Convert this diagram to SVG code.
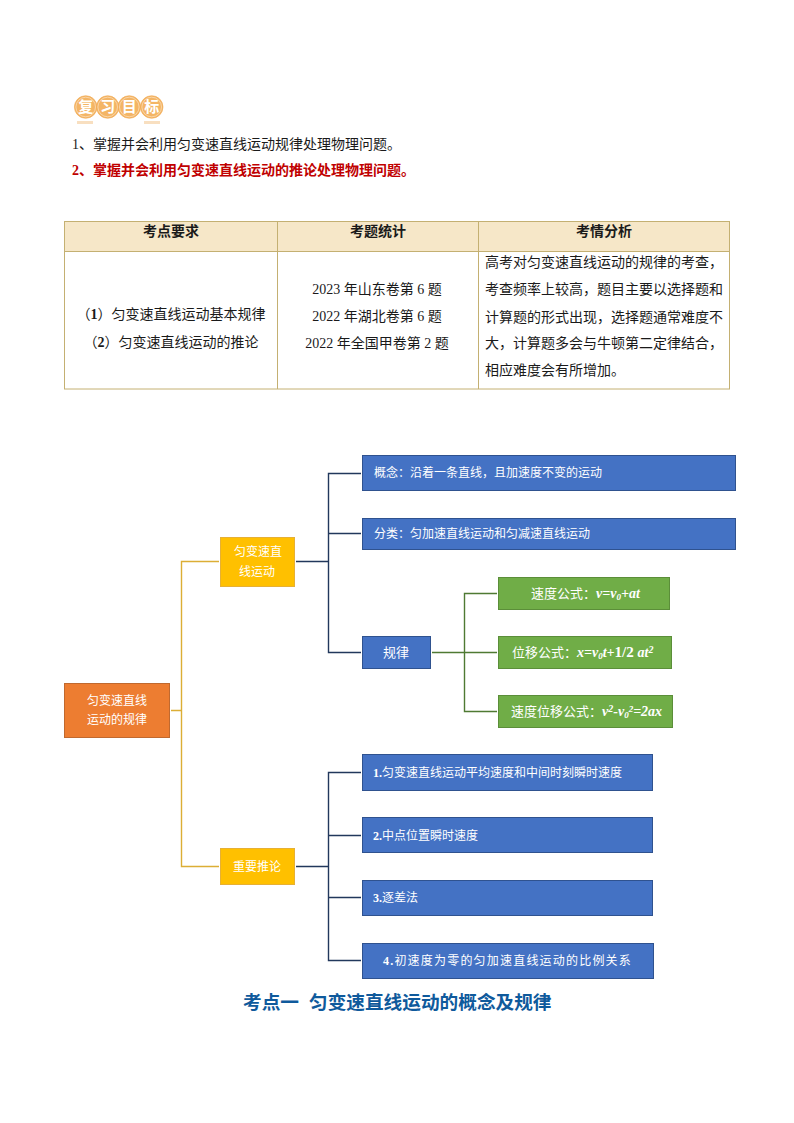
<svg xmlns="http://www.w3.org/2000/svg" width="794" height="1123" viewBox="0 0 794 1123">
<style>
text{font-family:"Liberation Serif","Noto Sans CJK SC",serif;font-size:14px;fill:#1a1a1a}
.c{text-anchor:middle}
.b{font-weight:700}
.w{fill:#fff;font-size:12px}
.g{fill:#fff;font-size:13px}
.f{font-style:italic;font-weight:700;font-size:14px;fill:#fff}
.d{font-weight:700;font-size:15px;fill:#fff}
.blue{fill:#4472c4;stroke:#2f528f;stroke-width:1}
.green{fill:#70ad47;stroke:#5b8e39;stroke-width:1}
.gold{fill:#ffc000;stroke:#e6b035;stroke-width:1}
.org{fill:#ed7d31;stroke:#c0692f;stroke-width:1}
.lk{fill:none;stroke-width:1.4}
.bdg{fill:#f4b565;stroke:#f0a850;stroke-width:.6}
.rng{fill:none;stroke:#fbe3c4;stroke-width:.7}
.cell{stroke:#c4b072;stroke-width:1}
.hd{font-weight:700;font-size:15px;fill:#fff;text-anchor:middle}
</style>
<rect width="794" height="1123" fill="#fff"/>
<g id="badge">
<rect x="77" y="121" width="16" height="3" fill="#f8dfc0"/><rect x="144" y="121" width="16" height="3" fill="#f8dfc0"/>
<circle class="bdg" cx="85.7" cy="107" r="11.3"/><circle class="bdg" cx="107.7" cy="107" r="11.3"/><circle class="bdg" cx="129.3" cy="107" r="11.3"/><circle class="bdg" cx="151.7" cy="107" r="11.3"/>
<circle class="rng" cx="85.7" cy="107" r="9.8"/><circle class="rng" cx="107.7" cy="107" r="9.8"/><circle class="rng" cx="129.3" cy="107" r="9.8"/><circle class="rng" cx="151.7" cy="107" r="9.8"/>
<text class="hd" x="85.7" y="112">复</text><text class="hd" x="107.7" y="112">习</text><text class="hd" x="129.3" y="112">目</text><text class="hd" x="151.7" y="112">标</text>
</g>
<text x="72" y="149">1、掌握并会利用匀变速直线运动规律处理物理问题。</text>
<text class="b" x="72" y="175" style="fill:#c00000">2、掌握并会利用匀变速直线运动的推论处理物理问题。</text>
<g id="table">
<rect class="cell" x="64.5" y="221.5" width="665" height="30" fill="#f6e7c8"/>
<rect class="cell" x="64.5" y="251.5" width="665" height="137.5" fill="#fff"/>
<path class="cell" fill="none" d="M277.5 221.5V389M478.5 221.5V389"/>
<text class="c b" x="171" y="236">考点要求</text>
<text class="c b" x="378" y="236">考题统计</text>
<text class="c b" x="604" y="236">考情分析</text>
<text class="c" x="171" y="319">（<tspan class="b">1</tspan>）匀变速直线运动基本规律</text>
<text class="c" x="171" y="347">（<tspan class="b">2</tspan>）匀变速直线运动的推论</text>
<text class="c" x="377" y="294">2023 年山东卷第 6 题</text>
<text class="c" x="377" y="321">2022 年湖北卷第 6 题</text>
<text class="c" x="377" y="348">2022 年全国甲卷第 2 题</text>
<text x="485" y="267">高考对匀变速直线运动的规律的考查，</text>
<text x="485" y="294">考查频率上较高，题目主要以选择题和</text>
<text x="485" y="322">计算题的形式出现，选择题通常难度不</text>
<text x="485" y="348">大，计算题多会与牛顿第二定律结合，</text>
<text x="485" y="375">相应难度会有所增加。</text>
</g>
<g id="connectors">
<path class="lk" stroke="#dcae35" d="M171 710.5H181.5M219 561.5H181.5V866.5H219"/>
<path class="lk" stroke="#22385c" d="M296 561.5H328.5M361 473.5H328.5V652.5H361M328.5 533.5H361M296 866.5H328.5M361 772.5H328.5V960.5H361M328.5 835.5H361M328.5 897.5H361"/>
<path class="lk" stroke="#4f7a33" d="M432 652.5H497M497 593.5H464.5V711.5H497"/>
</g>
<g id="root"><rect class="org" x="64.5" y="683.5" width="105" height="54"/><text class="c w" x="117" y="705">匀变速直线</text><text class="c w" x="117" y="724">运动的规律</text></g>
<g id="n1"><rect class="gold" x="220.5" y="537.5" width="74" height="49"/><text class="c w" x="258" y="556">匀变速直</text><text class="c w" x="257" y="576">线运动</text></g>
<g id="n2"><rect class="gold" x="220.5" y="848.5" width="74" height="36"/><text class="c w" x="257" y="871">重要推论</text></g>
<g id="a1"><rect class="blue" x="362.5" y="455.5" width="373" height="35"/><text class="w" x="374" y="477">概念：沿着一条直线，且加速度不变的运动</text></g>
<g id="a2"><rect class="blue" x="362.5" y="518.5" width="373" height="31"/><text class="w" x="374" y="538">分类：匀加速直线运动和匀减速直线运动</text></g>
<g id="a3"><rect class="blue" x="362.5" y="636.5" width="68" height="32"/><text class="c g" x="396" y="657">规律</text></g>
<g id="g1"><rect class="green" x="498.5" y="577.5" width="171" height="32"/><text class="g" x="531" y="598">速度公式：<tspan class="f">v=v<tspan dy="2" font-size="9">0</tspan><tspan dy="-2">+at</tspan></tspan></text></g>
<g id="g2"><rect class="green" x="498.5" y="636.5" width="173" height="32"/><text class="g" x="512" y="657">位移公式：<tspan class="f">x=v<tspan dy="2" font-size="9">0</tspan><tspan dy="-2">t+</tspan></tspan><tspan class="d">1/2 </tspan><tspan class="f">at<tspan dy="-4" font-size="10">2</tspan></tspan></text></g>
<g id="g3"><rect class="green" x="498.5" y="695.5" width="174" height="32"/><text class="g" x="511" y="716">速度位移公式：<tspan class="f">v<tspan dy="-4" font-size="10">2</tspan><tspan dy="4">-v</tspan><tspan dy="2" font-size="9">0</tspan><tspan dy="-6" font-size="9">2</tspan><tspan dy="4">=2ax</tspan></tspan></text></g>
<g id="b1"><rect class="blue" x="362.5" y="754.5" width="290" height="36"/><text class="w" x="373" y="777"><tspan class="b">1.</tspan>匀变速直线运动平均速度和中间时刻瞬时速度</text></g>
<g id="b2"><rect class="blue" x="362.5" y="817.5" width="290" height="35"/><text class="w" x="373" y="840"><tspan class="b">2.</tspan>中点位置瞬时速度</text></g>
<g id="b3"><rect class="blue" x="362.5" y="880.5" width="290" height="35"/><text class="w" x="373" y="902"><tspan class="b">3.</tspan>逐差法</text></g>
<g id="b4"><rect class="blue" x="362.5" y="943.5" width="291" height="35"/><text class="w" x="383" y="965" letter-spacing="1.2"><tspan class="b">4.</tspan>初速度为零的匀加速直线运动的比例关系</text></g>
<text class="b" x="243" y="1009" style="font-size:18.67px;fill:#0f5a9c">考点一<tspan dx="10">匀变速直线运动的概念及规律</tspan></text>
</svg>
